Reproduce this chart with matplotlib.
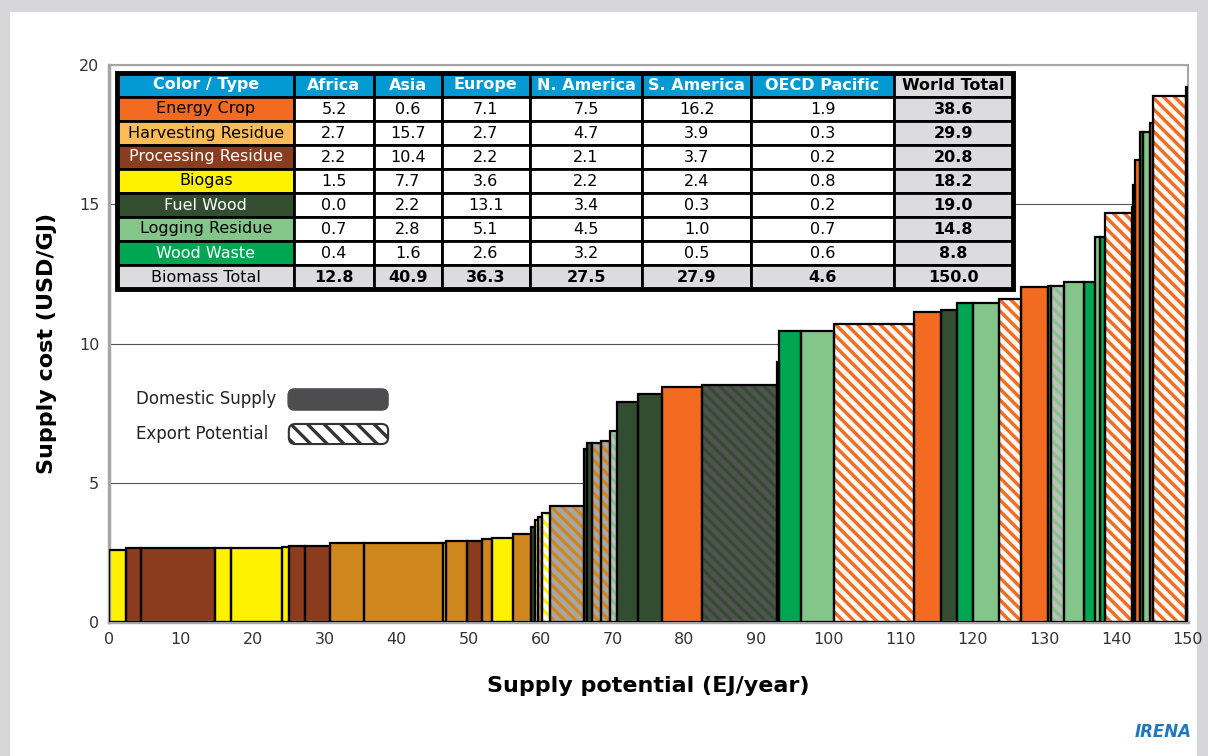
import numpy as np
import matplotlib
matplotlib.use("Agg")
import matplotlib.pyplot as plt
from matplotlib.patches import Rectangle, FancyBboxPatch

plt.rcParams["font.family"] = "DejaVu Sans"
plt.rcParams["hatch.linewidth"] = 2.4

# supply curve steps: width = potential (EJ/yr), height = cost (USD/GJ)
potential = [2.3, 2.2, 10.3, 2.2, 7.0, 1.0, 2.3, 3.4, 4.7, 11.0,
             0.5, 2.9, 2.0, 1.4, 3.0, 2.4, 0.6, 0.5, 0.5, 1.1,
             4.7, 0.5, 0.6, 1.3, 1.3, 0.9, 2.9, 3.4, 5.5, 10.4,
             0.3, 3.1, 4.6, 11.1, 3.8, 2.2, 2.2, 3.6, 3.1, 3.8,
             0.3, 1.8, 2.8, 1.6, 0.7, 0.6, 3.8, 0.2, 0.3, 0.6,
             0.5, 0.9, 0.5, 4.5, 0.3]
cost = [2.59, 2.67, 2.67, 2.65, 2.65, 2.70, 2.72, 2.72, 2.83, 2.84,
        2.85, 2.90, 2.90, 2.97, 3.03, 3.15, 3.42, 3.66, 3.78, 3.90,
        4.17, 6.20, 6.42, 6.44, 6.50, 6.87, 7.89, 8.19, 8.45, 8.51,
        9.35, 10.45, 10.45, 10.70, 11.12, 11.20, 11.45, 11.45, 11.60, 12.02,
        12.08, 12.08, 12.20, 12.20, 13.82, 13.82, 14.67, 14.90, 15.70, 16.60,
        17.58, 17.58, 17.90, 18.90, 19.20]
kind = ["BG", "PR", "PR", "BG", "BG", "BG", "PR", "PR", "HR", "HR",
        "BG", "HR", "PR", "HR", "BG", "HR", "FW", "BG", "HR", "BG",
        "HR", "FW", "FW", "HR", "HR", "LR", "FW", "FW", "EC", "FW",
        "FW", "WW", "LR", "EC", "EC", "FW", "WW", "LR", "EC", "EC",
        "WW", "LR", "LR", "WW", "LR", "WW", "EC", "FW", "FW", "EC",
        "WW", "LR", "EC", "EC", "FW"]
export = [0, 0, 0, 0, 0, 0, 0, 0, 0, 0,
          0, 0, 0, 0, 0, 0, 0, 1, 1, 1,
          1, 0, 0, 1, 1, 1, 0, 0, 0, 1,
          0, 0, 0, 1, 0, 0, 0, 0, 1, 0,
          0, 1, 0, 0, 0, 0, 1, 0, 0, 0,
          0, 0, 0, 1, 0]

# table data
types = ["Energy Crop", "Harvesting Residue", "Processing Residue", "Biogas",
         "Fuel Wood", "Logging Residue", "Wood Waste"]
type_codes = ["EC", "HR", "PR", "BG", "FW", "LR", "WW"]
regions = ["Africa", "Asia", "Europe", "N. America", "S. America", "OECD Pacific"]
africa = [5.2, 2.7, 2.2, 1.5, 0.0, 0.7, 0.4]
asia = [0.6, 15.7, 10.4, 7.7, 2.2, 2.8, 1.6]
europe = [7.1, 2.7, 2.2, 3.6, 13.1, 5.1, 2.6]
n_america = [7.5, 4.7, 2.1, 2.2, 3.4, 4.5, 3.2]
s_america = [16.2, 3.9, 3.7, 2.4, 0.3, 1.0, 0.5]
oecd_pacific = [1.9, 0.3, 0.2, 0.8, 0.2, 0.7, 0.6]
world_total = [38.6, 29.9, 20.8, 18.2, 19.0, 14.8, 8.8]
biomass_total = [12.8, 40.9, 36.3, 27.5, 27.9, 4.6, 150.0]

bar_color = {"EC": "#F26B21", "HR": "#CF861D", "PR": "#8B3C1E", "BG": "#FFF200",
             "FW": "#334D30", "LR": "#84C68A", "WW": "#00A651"}
cell_color = dict(bar_color, HR="#FDBB58")
export_face = {"EC": "#FFF9F3", "HR": "#A7A7A7", "PR": "#A7A7A7", "BG": "#FFFFFF",
               "FW": "#525252", "LR": "#BFBFBF", "WW": "#BFBFBF"}
white_text = ["PR", "FW", "WW"]
hatch = "\\\\\\"

W, H = 1208, 756
fig = plt.figure(figsize=(W / 100, H / 100), dpi=100, facecolor="#D7D7D9")
fig.patches.append(Rectangle((10 / W, 0), 1187 / W, 744 / H, transform=fig.transFigure,
                             facecolor="white", edgecolor="none", zorder=-5))

ax = fig.add_axes([109 / W, 1 - 622 / H, 1079 / W, 557 / H])
ax.set_xlim(0, 150)
ax.set_ylim(0, 20)

left = np.concatenate([[0], np.cumsum(potential)[:-1]])
for x, w, c, k, e in zip(left, potential, cost, kind, export):
    if e:
        ax.bar(x, c, w, align="edge", color=export_face[k], hatch=hatch,
               edgecolor=bar_color[k], linewidth=0, zorder=2)
    else:
        ax.bar(x, c, w, align="edge", color=bar_color[k], linewidth=0, zorder=2)
    ax.bar(x, c, w, align="edge", fill=False, edgecolor="black", linewidth=1.6, zorder=3)

# axes styling
ax.set_xticks(np.arange(0, 151, 10))
ax.set_yticks(np.arange(0, 21, 5))
ax.tick_params(length=0, labelsize=11.5, labelcolor="#333333", pad=7)
ax.yaxis.grid(True, color="#555555", linewidth=0.8)
ax.set_axisbelow(True)
for s in ax.spines.values():
    s.set_color("#A6A6A6")
    s.set_linewidth(1.5)
ax.spines["bottom"].set_linewidth(2.5)
ax.spines["left"].set_linewidth(2.5)
ax.set_xlabel("Supply potential (EJ/year)", fontsize=16, fontweight="bold", labelpad=21)
ax.set_ylabel("Supply cost (USD/GJ)", fontsize=16, fontweight="bold", labelpad=16)

# table
cols = [africa, asia, europe, n_america, s_america, oecd_pacific, world_total]
cell_text = [[t] + ["%.1f" % col[i] for col in cols] for i, t in enumerate(types)]
cell_text.append(["Biomass Total"] + ["%.1f" % v for v in biomass_total])
col_labels = ["Color / Type"] + regions + ["World Total"]
col_w = [177, 79, 68, 88, 112, 109, 142, 119]

x0 = (117 - 109) / 1079
x1 = (1013 - 109) / 1079
y0 = (622 - 289) / 557
y1 = (622 - 73) / 557
tbl = ax.table(cellText=cell_text, colLabels=col_labels, cellLoc="center",
               bbox=[x0, y0, x1 - x0, y1 - y0])
tbl.auto_set_font_size(False)
tbl.set_fontsize(11.5)
tbl.set_zorder(6)
nrows = len(cell_text)
for (r, c), cell in tbl.get_celld().items():
    cell.set_width(col_w[c])
    cell.set_edgecolor("black")
    cell.set_linewidth(2)
    txt = cell.get_text()
    if r == 0:
        txt.set_fontweight("bold")
        if c == len(col_w) - 1:
            cell.set_facecolor("#DCDCDE")
        else:
            cell.set_facecolor("#0399D3")
            txt.set_color("white")
    elif r == nrows:
        cell.set_facecolor("#DCDCDE")
        if c > 0:
            txt.set_fontweight("bold")
    elif c == 0:
        code = type_codes[r - 1]
        cell.set_facecolor(cell_color[code])
        txt.set_color("white" if code in white_text else "black")
    elif c == len(col_w) - 1:
        cell.set_facecolor("#DCDCDE")
        txt.set_fontweight("bold")
ax.add_patch(Rectangle((x0, y0), x1 - x0, y1 - y0, transform=ax.transAxes, fill=False,
                       edgecolor="black", linewidth=3.5, zorder=7, clip_on=False))

# legend boxes
ax.text(3.75, 8.0, "Domestic Supply", fontsize=12, va="center", ha="left", color="#222222")
ax.text(3.75, 6.75, "Export Potential", fontsize=12, va="center", ha="left", color="#222222")
asp = (1 / 27.85) / (1 / 7.19)
ax.add_patch(FancyBboxPatch((24.9, 7.61), 13.9, 0.76, boxstyle="round,pad=0,rounding_size=0.9",
                            mutation_aspect=asp, facecolor="#4D4D4F", edgecolor="#4D4D4F",
                            linewidth=1, zorder=4))
ax.add_patch(FancyBboxPatch((25.0, 6.39), 13.8, 0.72, boxstyle="round,pad=0,rounding_size=0.9",
                            mutation_aspect=asp, facecolor="white", edgecolor="#333333",
                            hatch="\\\\", linewidth=1.5, zorder=4))

fig.text(1192 / W, 1 - 732 / H, "IRENA", ha="right", va="center", fontsize=12,
         fontweight="bold", fontstyle="italic", color="#1F78BE")

fig.savefig("out.png", dpi=100, facecolor=fig.get_facecolor())
